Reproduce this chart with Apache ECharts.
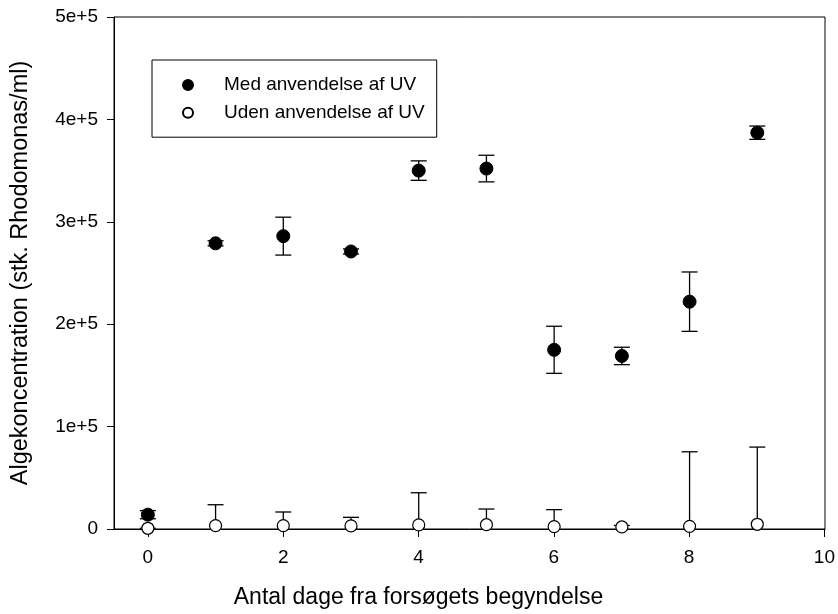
<!DOCTYPE html>
<html>
<head>
<meta charset="utf-8">
<script src="https://cdn.jsdelivr.net/npm/echarts@6/dist/echarts.min.js"></script>
<style>
  html, body { margin: 0; padding: 0; background: #fff; }
  #chart { width: 838px; height: 614px; }
</style>
</head>
<body>
<div id="chart"></div>
<script>
// days since start of experiment
var days = [0, 1, 2, 3, 4, 5, 6, 7, 8, 9];

// with UV (filled circles): mean and symmetric error
var medUV = [14000, 279000, 286000, 271000, 350000, 352000, 175000, 169000, 222000, 387000];
var medUVErr = [4000, 2500, 18500, 2500, 9500, 13000, 23000, 8500, 29000, 6500];

// without UV (open circles): mean and upper error
var udenUV = [700, 3300, 3300, 3000, 4000, 4200, 2300, 2000, 2600, 4600];
var udenUVErr = [0, 20400, 13300, 8400, 31400, 15300, 16600, 1500, 72800, 75400];

var xMin = -0.5, xMax = 10;

var chart = echarts.init(document.getElementById('chart'));

function errPairs(mean, err, upperOnly) {
  return days.map(function (d, i) {
    return [d, upperOnly ? mean[i] : mean[i] - err[i], mean[i] + err[i]];
  });
}

// draws a vertical whisker with caps
function renderErr(params, api) {
  var lo = api.coord([api.value(0), api.value(1)]);
  var hi = api.coord([api.value(0), api.value(2)]);
  var half = 8;
  var style = { stroke: '#000', lineWidth: 1.3 };
  var children = [
    { type: 'line', shape: { x1: hi[0], y1: hi[1], x2: lo[0], y2: lo[1] }, style: style },
    { type: 'line', shape: { x1: hi[0] - half, y1: hi[1], x2: hi[0] + half, y2: hi[1] }, style: style }
  ];
  if (params.seriesName === 'errMed') {
    children.push({ type: 'line', shape: { x1: lo[0] - half, y1: lo[1], x2: lo[0] + half, y2: lo[1] }, style: style });
  }
  return { type: 'group', children: children };
}

var font = 'Liberation Sans, Arial, sans-serif';
var gLeft = 114, gRight = 13, gWidth = 838 - gLeft - gRight;
// second grid starts at x = 0 so the tick axis can use min 0, interval 2
var tickLeft = gLeft + (0 - xMin) / (xMax - xMin) * gWidth;

var option = {
  animation: false,
  backgroundColor: '#fff',
  grid: [
    { left: gLeft, right: gRight, top: 17, bottom: 84, show: true, borderColor: '#000', borderWidth: 1 },
    { left: tickLeft, right: gRight, top: 17, bottom: 84, show: false }
  ],
  legend: {
    data: ['Med anvendelse af UV', 'Uden anvendelse af UV'],
    orient: 'vertical',
    left: 152, top: 60,
    padding: [15.5, 12, 15, 30],
    itemWidth: 10, itemHeight: 10, itemGap: 8.7,
    borderColor: '#000', borderWidth: 1,
    backgroundColor: '#fff',
    textStyle: { fontFamily: font, fontSize: 19, color: '#000', lineHeight: 19, padding: [0, 0, 0, 26] }
  },
  xAxis: [
    {
      type: 'value', gridIndex: 0,
      min: xMin, max: xMax,
      name: 'Antal dage fra forsøgets begyndelse',
      nameLocation: 'middle', nameGap: 57,
      nameTextStyle: { fontFamily: font, fontSize: 23, color: '#000', padding: [0, 102, 0, 0] },
      axisLine: { onZero: false, lineStyle: { color: '#000', width: 1 } },
      axisTick: { show: false },
      axisLabel: { show: false },
      splitLine: { show: false }
    },
    {
      type: 'value', gridIndex: 1,
      min: 0, max: 10, interval: 2,
      axisLine: { show: false },
      axisTick: { show: true, inside: false, length: 7, lineStyle: { color: '#000', width: 1 } },
      axisLabel: { margin: 18, fontFamily: font, fontSize: 19, color: '#000' },
      splitLine: { show: false }
    }
  ],
  yAxis: [
    {
      type: 'value', gridIndex: 0,
      min: 0, max: 500000, interval: 100000,
      name: 'Algekoncentration (stk. Rhodomonas/ml)',
      nameLocation: 'middle', nameGap: 81,
      nameTextStyle: { fontFamily: font, fontSize: 23.5, color: '#000' },
      axisLine: { show: true, onZero: false, lineStyle: { color: '#000', width: 1 } },
      axisTick: { show: true, inside: false, length: 7, lineStyle: { color: '#000' } },
      axisLabel: {
        margin: 16, fontFamily: font, fontSize: 19, color: '#000',
        formatter: function (v) { return v === 0 ? '0' : (v / 100000) + 'e+5'; }
      },
      splitLine: { show: false }
    },
    {
      type: 'value', gridIndex: 1, min: 0, max: 500000,
      show: false
    }
  ],
  series: [
    {
      name: 'errMed', type: 'custom', renderItem: renderErr,
      xAxisIndex: 0, yAxisIndex: 0,
      data: errPairs(medUV, medUVErr, false), z: 1, silent: true
    },
    {
      name: 'errUden', type: 'custom', renderItem: renderErr,
      xAxisIndex: 0, yAxisIndex: 0,
      data: errPairs(udenUV, udenUVErr, true), z: 1, silent: true
    },
    {
      name: 'Med anvendelse af UV', type: 'scatter',
      xAxisIndex: 0, yAxisIndex: 0,
      symbol: 'circle', symbolSize: 13, z: 3,
      itemStyle: { color: '#000', borderColor: '#000', borderWidth: 1, opacity: 1 },
      data: days.map(function (d, i) { return [d, medUV[i]]; })
    },
    {
      name: 'Uden anvendelse af UV', type: 'scatter',
      xAxisIndex: 0, yAxisIndex: 0,
      symbol: 'circle', symbolSize: 12, z: 4,
      itemStyle: { color: '#fff', borderColor: '#000', borderWidth: 1.2, opacity: 1 },
      data: days.map(function (d, i) { return [d, udenUV[i]]; })
    }
  ]
};

chart.setOption(option);
</script>
</body>
</html>
